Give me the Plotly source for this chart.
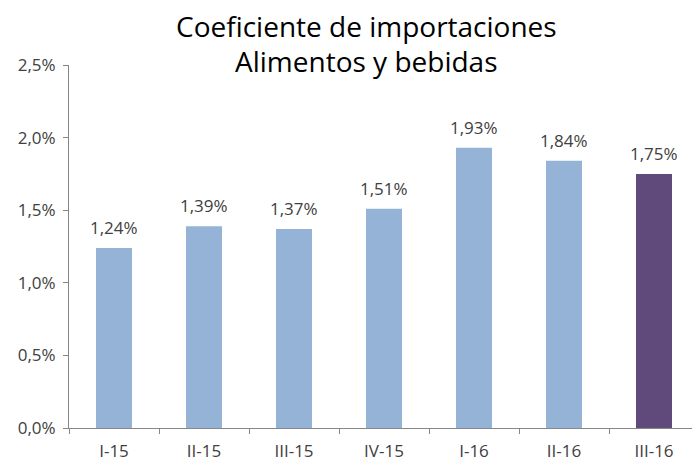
import plotly.graph_objects as go

# data
quarters = ["I-15", "II-15", "III-15", "IV-15", "I-16", "II-16", "III-16"]
coef = [1.24, 1.39, 1.37, 1.51, 1.93, 1.84, 1.75]
labels = ["1,24%", "1,39%", "1,37%", "1,51%", "1,93%", "1,84%", "1,75%"]
y_ticks = [0, 0.5, 1.0, 1.5, 2.0, 2.5]
y_ticktext = ["0,0%", "0,5%", "1,0%", "1,5%", "2,0%", "2,5%"]
title_lines = ["Coeficiente de importaciones", "Alimentos y bebidas"]

bar_colors = ["#95B3D7"] * (len(quarters) - 1) + ["#604A7B"]

fig = go.Figure(go.Bar(
    x=quarters, y=coef, width=0.4,
    marker=dict(color=bar_colors, line=dict(width=0)),
))

# page is shown with an 8px body margin, so the layout is shifted up/left
fig.update_layout(
    width=700, height=461,
    margin=dict(l=61, r=9, t=57, b=41, autoexpand=False),
    paper_bgcolor="white", plot_bgcolor="white",
    font=dict(family="Open Sans", color="#404040"),
    showlegend=False,
)

# value labels a little above each bar
for q, v, lab in zip(quarters, coef, labels):
    fig.add_annotation(
        x=q, y=v, text=lab, showarrow=False,
        yanchor="bottom", yshift=7,
        font=dict(size=17, color="#404040"),
    )

# two-line title
for i, line in enumerate(title_lines):
    fig.add_annotation(
        text=line, showarrow=False,
        xref="paper", x=(358 - 61) / 630, xanchor="center",
        yref="paper", y=1 + (39 - 35 * i) / 363, yanchor="middle",
        font=dict(size=28, color="black"),
    )

fig.update_yaxes(
    range=[0, 2.5], tickvals=y_ticks, ticktext=y_ticktext,
    showgrid=False, zeroline=False,
    showline=True, linecolor="#868686", linewidth=1,
    ticks="outside", ticklen=5, tickcolor="#868686",
    ticklabelstandoff=4,
    tickfont=dict(size=17, color="#404040"),
)
fig.update_xaxes(
    showgrid=False, showline=True, linecolor="#868686", linewidth=1,
    ticks="outside", ticklen=5, tickcolor="#868686", tickson="boundaries",
    ticklabelstandoff=8,
    tickfont=dict(size=17, color="#404040"),
)

fig.write_html("out.html")
